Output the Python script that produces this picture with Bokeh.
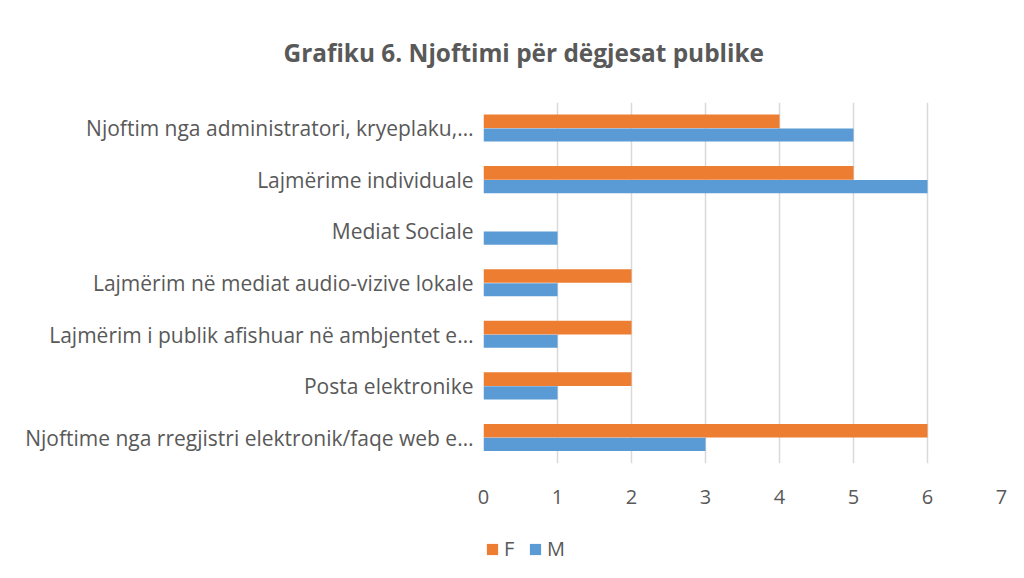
from bokeh.plotting import figure
from bokeh.layouts import column
from bokeh.models import ColumnDataSource, FactorRange, Range1d, FixedTicker, Legend, LegendItem
from bokeh.transform import dodge
from bokeh.embed import file_html
from bokeh.resources import INLINE

# Categories, top to bottom as shown
categories = [
    "Njoftim nga administratori, kryeplaku,…",
    "Lajmërime individuale",
    "Mediat Sociale",
    "Lajmërim në mediat audio-vizive lokale",
    "Lajmërim i publik afishuar në ambjentet e…",
    "Posta elektronike",
    "Njoftime nga rregjistri elektronik/faqe web e…",
]
F_values = [4, 5, 0, 2, 2, 2, 6]
M_values = [5, 6, 1, 1, 1, 1, 3]
x_ticks = [0, 1, 2, 3, 4, 5, 6, 7]
title_text = "Grafiku 6. Njoftimi për dëgjesat publike"
series_names = ["F", "M"]

# trailing padding seen on some labels in the original
label_pad = {
    "Lajmërime individuale": 3,
    "Mediat Sociale": 4,
    "Lajmërim në mediat audio-vizive lokale": 4,
    "Posta elektronike": 4,
}

ORANGE = "#ED7D31"
BLUE = "#5B9BD5"
TXT = "#595959"
FONT = "Open Sans"

src = ColumnDataSource(dict(cat=categories, F=F_values, M=M_values))

p = figure(
    width=1008, height=520,
    y_range=FactorRange(factors=list(reversed(categories)), range_padding=0),
    x_range=Range1d(0, 7),
    output_backend="svg", toolbar_location=None,
    min_border_left=483, min_border_right=7, min_border_top=100, min_border_bottom=57,
)

p.hbar(y=dodge("cat", 0.135, range=p.y_range), right="F", left=0, height=0.265,
       source=src, color=ORANGE, line_color=None)
p.hbar(y=dodge("cat", -0.13, range=p.y_range), right="M", left=0, height=0.255,
       source=src, color=BLUE, line_color=None)

p.outline_line_color = None
p.background_fill_color = "white"
p.border_fill_color = "white"

p.title.text = title_text
p.title.align = "left"
p.title.offset = -200
p.title.standoff = 67
p.title.text_font = FONT
p.title.text_font_size = "24.4px"
p.title.text_font_style = "bold"
p.title.text_color = TXT

p.xgrid.grid_line_color = "#D9D9D9"
p.xgrid.grid_line_width = 1.5
p.ygrid.grid_line_color = None
p.xaxis.ticker = FixedTicker(ticks=x_ticks)
p.xaxis.axis_line_color = None
p.xaxis.major_tick_line_color = None
p.xaxis.minor_tick_line_color = None
p.xaxis.major_label_text_font = FONT
p.xaxis.major_label_text_font_size = "20px"
p.xaxis.major_label_text_color = TXT
p.xaxis.major_label_standoff = 20

p.yaxis.axis_line_color = None
p.yaxis.major_tick_line_color = None
p.yaxis.minor_tick_line_color = None
p.yaxis.major_label_text_font = FONT
p.yaxis.major_label_text_font_size = "21px"
p.yaxis.major_label_text_color = TXT
p.yaxis.major_label_standoff = 4
p.yaxis.major_label_overrides = {c: c + "\u00a0" * label_pad[c] for c in label_pad}

# legend strip below the chart (its frame is aligned with the chart's frame)
pl = figure(width=1008, height=42, x_range=Range1d(0, 1), y_range=Range1d(0, 1),
            output_backend="svg", toolbar_location=None,
            min_border_left=0, min_border_right=0, min_border_top=0, min_border_bottom=0)
pl.axis.visible = False
pl.grid.visible = False
pl.outline_line_color = None
offscreen = ColumnDataSource(dict(l=[-10], r=[-9], b=[-10], t=[-9]))
lF = pl.quad(left="l", right="r", bottom="b", top="t", source=offscreen, color=ORANGE, line_color=None)
lM = pl.quad(left="l", right="r", bottom="b", top="t", source=offscreen, color=BLUE, line_color=None)
legend = Legend(items=[LegendItem(label=series_names[0], renderers=[lF]),
                       LegendItem(label=series_names[1], renderers=[lM])],
                orientation="horizontal", location=(2, 0),
                glyph_width=14, glyph_height=14, label_standoff=5, spacing=4,
                padding=0, margin=0, border_line_color=None, background_fill_alpha=0,
                label_text_font=FONT, label_text_font_size="20px", label_text_color=TXT)
pl.add_layout(legend, "center")

layout = column(p, pl, spacing=0)
open("out.html", "w").write(file_html(layout, INLINE))
